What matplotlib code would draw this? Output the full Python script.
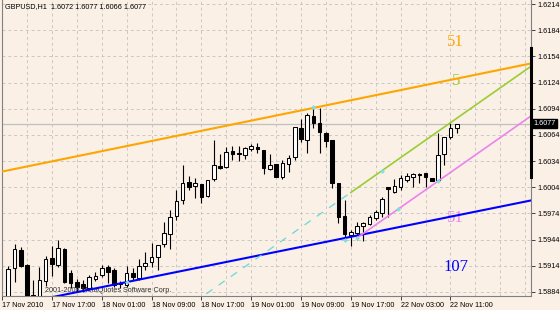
import matplotlib
matplotlib.use('Agg')
import matplotlib.pyplot as plt
import matplotlib.transforms as mtransforms

# GBPUSD H1 candles, bar 0 = 17 Nov 2010 10:00, last bar = 22 Nov 12:00
opens = [1.5878, 1.5912, 1.5932, 1.5915, 1.5881, 1.5878, 1.5897, 1.5923, 1.5915, 1.5933,
         1.5906, 1.5896, 1.5893, 1.5889, 1.5899, 1.5904, 1.5913, 1.5909, 1.5893, 1.5892,
         1.5906, 1.5900, 1.5914, 1.5918, 1.5924, 1.5939, 1.5950, 1.5971, 1.5989, 1.6010,
         1.6005, 1.6008, 1.5994, 1.6013, 1.6028, 1.6027, 1.6046, 1.6043, 1.6041, 1.6048,
         1.6050, 1.6047, 1.6025, 1.6031, 1.6016, 1.6031, 1.6039, 1.6072, 1.6058, 1.6086,
         1.6078, 1.6066, 1.6058, 1.6009, 1.5971, 1.5949, 1.5952, 1.5960, 1.5962, 1.5969,
         1.5975, 1.6004, 1.5999, 1.6004, 1.6012, 1.6016, 1.6019, 1.6020, 1.6015, 1.6012,
         1.6042, 1.6062, 1.6072]
highs = [1.5914, 1.5939, 1.5936, 1.5916, 1.5898, 1.5913, 1.5925, 1.5937, 1.5944, 1.5934,
         1.5909, 1.5899, 1.5898, 1.5904, 1.5907, 1.5915, 1.5915, 1.5912, 1.5897, 1.5914,
         1.5912, 1.5922, 1.5930, 1.5940, 1.5938, 1.5964, 1.5978, 1.6001, 1.6030, 1.6017,
         1.6015, 1.6008, 1.6012, 1.6058, 1.6042, 1.6050, 1.6051, 1.6051, 1.6050, 1.6054,
         1.6055, 1.6047, 1.6042, 1.6031, 1.6035, 1.6041, 1.6073, 1.6082, 1.6089, 1.6096,
         1.6095, 1.6067, 1.6058, 1.6009, 1.5989, 1.5955, 1.5964, 1.5964, 1.5972, 1.5978,
         1.5993, 1.6004, 1.6013, 1.6018, 1.6020, 1.6020, 1.6020, 1.6020, 1.6015, 1.6066,
         1.6062, 1.6078, 1.6077]
lows = [1.5877, 1.5896, 1.5913, 1.5877, 1.5877, 1.5877, 1.5891, 1.5902, 1.5913, 1.5894,
        1.5889, 1.5884, 1.5884, 1.5886, 1.5897, 1.5901, 1.5894, 1.5890, 1.5889, 1.5890,
        1.5898, 1.5898, 1.5909, 1.5913, 1.5909, 1.5936, 1.5933, 1.5967, 1.5985, 1.6001,
        1.5992, 1.5986, 1.5993, 1.6011, 1.6025, 1.6026, 1.6035, 1.6034, 1.6036, 1.6046,
        1.6043, 1.6019, 1.6024, 1.6016, 1.6014, 1.6022, 1.6035, 1.6056, 1.6043, 1.6072,
        1.6043, 1.6050, 1.6003, 1.5963, 1.5944, 1.5937, 1.5944, 1.5942, 1.5961, 1.5967,
        1.5970, 1.5970, 1.5997, 1.6001, 1.6010, 1.6004, 1.6009, 1.6004, 1.6011, 1.6011,
        1.6030, 1.6059, 1.6066]
closes = [1.5910, 1.5933, 1.5914, 1.5878, 1.5878, 1.5898, 1.5922, 1.5916, 1.5934, 1.5896,
          1.5894, 1.5890, 1.5888, 1.5901, 1.5902, 1.5912, 1.5907, 1.5892, 1.5894, 1.5906,
          1.5901, 1.5914, 1.5917, 1.5924, 1.5938, 1.5952, 1.5970, 1.5988, 1.6009, 1.6004,
          1.6009, 1.5993, 1.6012, 1.6030, 1.6026, 1.6044, 1.6042, 1.6042, 1.6049, 1.6051,
          1.6048, 1.6026, 1.6030, 1.6016, 1.6032, 1.6038, 1.6073, 1.6059, 1.6087, 1.6078,
          1.6067, 1.6057, 1.6009, 1.5970, 1.5950, 1.5953, 1.5960, 1.5963, 1.5970, 1.5976,
          1.5990, 1.6002, 1.6005, 1.6015, 1.6017, 1.6019, 1.6018, 1.6016, 1.6011, 1.6041,
          1.6062, 1.6072, 1.6077]

tick_bars = [-1, 7, 15, 23, 31, 39, 47, 55, 63, 71]
tick_labels = ['17 Nov 2010', '17 Nov 17:00', '18 Nov 01:00', '18 Nov 09:00', '18 Nov 17:00',
               '19 Nov 01:00', '19 Nov 09:00', '19 Nov 17:00', '22 Nov 03:00', '22 Nov 11:00']
price_ticks = [1.5884, 1.5914, 1.5944, 1.5974, 1.6004, 1.6034, 1.6064, 1.6094,
               1.6124, 1.6154, 1.6184, 1.6214]
bid = 1.6077

# trend lines: two anchor points each (bar, price)
orange_bars, orange_prices = [-1, 84], [1.6022, 1.6146]
blue_bars, blue_prices = [50, 84], [1.5940, 1.5989]
green_bars, green_prices = [60, 71], [1.6023, 1.6078]
violet_bars, violet_prices = [56, 69], [1.5946, 1.6011]
green_start = 55
violet_start = 56

# small cyan anchor markers
marker_bars = [19, 49, 54, 56, 60, 62.5, 69]
marker_prices = [1.5895, 1.6096, 1.5944, 1.5946, 1.6023, 1.5979, 1.6011]

# black range bar drawn on the price scale
range_bar = [1.6016, 1.6164]

x_min, x_max = -1.01, 83.93
y_min, y_max = 1.58794, 1.62186

bg = '#FAF0E6'
small_font = 'Liberation Sans'
small_size = 5.2


def line_at(bars, prices, x):
    slope = (prices[1] - prices[0]) / (bars[1] - bars[0])
    return prices[0] + slope * (x - bars[0])


fig = plt.figure(figsize=(5.6, 3.1), dpi=100, facecolor=bg)
ax = fig.add_axes([2 / 560, 14 / 310, 529 / 560, 296 / 310], facecolor=bg)
ax.set_xlim(x_min, x_max)
ax.set_ylim(y_min, y_max)

# grid (every 4 bars / every price tick)
ax.set_xticks(tick_bars)
ax.set_xticks([b for b in range(-1, 84, 4)], minor=True)
ax.set_yticks(price_ticks)
ax.grid(True, which='both', color='#C8C8C8', linestyle=(0, (3, 3)), linewidth=0.7)
ax.set_axisbelow(True)

# bid line
ax.axhline(bid, color='#C0C0C0', linewidth=0.9, zorder=1)

# candles
for i in range(len(opens)):
    o, h, l, c = opens[i], highs[i], lows[i], closes[i]
    ax.vlines(i, l, h, color='black', linewidth=0.8, zorder=2)
    if c >= o:
        ax.bar(i, c - o, bottom=o, width=0.58, facecolor='white', edgecolor='black',
               linewidth=0.75, zorder=3)
    else:
        ax.bar(i, o - c, bottom=c, width=0.58, facecolor='black', edgecolor='black',
               linewidth=0.75, zorder=3)

# trend lines
ax.plot([x_min, x_max], [line_at(orange_bars, orange_prices, x_min), line_at(orange_bars, orange_prices, x_max)],
        color='#FFA500', linewidth=1.5, zorder=4)
ax.plot([x_min, x_max], [line_at(blue_bars, blue_prices, x_min), line_at(blue_bars, blue_prices, x_max)],
        color='#0000FF', linewidth=1.5, zorder=4)
ax.plot([x_min, green_start], [line_at(green_bars, green_prices, x_min), line_at(green_bars, green_prices, green_start)],
        color='#66D9D9', linewidth=0.9, linestyle=(0, (6, 6)), zorder=4)
ax.plot([green_start, x_max], [line_at(green_bars, green_prices, green_start), line_at(green_bars, green_prices, x_max)],
        color='#9ACD32', linewidth=1.2, zorder=4)
ax.plot([violet_start, x_max], [line_at(violet_bars, violet_prices, violet_start), line_at(violet_bars, violet_prices, x_max)],
        color='#EE82EE', linewidth=1.2, zorder=4)
ax.scatter(marker_bars, marker_prices, marker='D', s=6, color='#7FE0E0', zorder=5, linewidths=0)

# line labels
ax.text(71.7, 1.6170, '51', color='#FFA500', fontsize=12, family='Liberation Serif', ha='center', va='center')
ax.text(71.9, 1.6126, '5', color='#9ACD32', fontsize=12, family='Liberation Serif', ha='center', va='center')
ax.text(71.7, 1.5969, '51', color='#EE82EE', fontsize=12, family='Liberation Serif', ha='center', va='center')
ax.text(71.9, 1.5913, '107', color='#0000FF', fontsize=12, family='Liberation Serif', ha='center', va='center')

# header and copyright
ax.text(0.005, 0.978, 'GBPUSD,H1  1.6072 1.6077 1.6066 1.6077', transform=ax.transAxes,
        fontsize=small_size, family=small_font, ha='left', va='center', color='black')
ax.text(0.081, 0.02, '2001-2008 MetaQuotes Software Corp.', transform=ax.transAxes,
        fontsize=small_size, family=small_font, ha='left', va='center', color='#303030', zorder=3)

# axes frame
ax.spines['top'].set_visible(False)
for side in ['left', 'right', 'bottom']:
    ax.spines[side].set_color('#808080')
    ax.spines[side].set_linewidth(0.8)

ax.yaxis.tick_right()
ax.tick_params(axis='y', which='major', length=3, width=0.7, color='#404040', pad=1.5,
               labelsize=small_size, labelcolor='black')
ax.tick_params(axis='x', which='major', length=3, width=0.7, color='#404040', pad=1.5,
               labelsize=small_size, labelcolor='black')
ax.tick_params(axis='x', which='minor', length=0)
ax.set_yticklabels([f'{p:.4f}' for p in price_ticks], family=small_font)
ax.set_xticklabels(tick_labels, family=small_font)
for lab in ax.get_xticklabels():
    lab.set_ha('left')

# range bar on the price scale and current price box
trans = mtransforms.blended_transform_factory(ax.transAxes, ax.transData)
ax.plot([1.0, 1.0], range_bar, color='black', linewidth=2.2, transform=trans, clip_on=False, zorder=6)
ax.text(1.005, bid, f'{bid:.4f}', transform=trans, fontsize=small_size, family=small_font, color='white',
        ha='left', va='center', bbox=dict(facecolor='black', edgecolor='black', pad=1.0), zorder=7)

fig.savefig('out.png', dpi=100, facecolor=bg)
